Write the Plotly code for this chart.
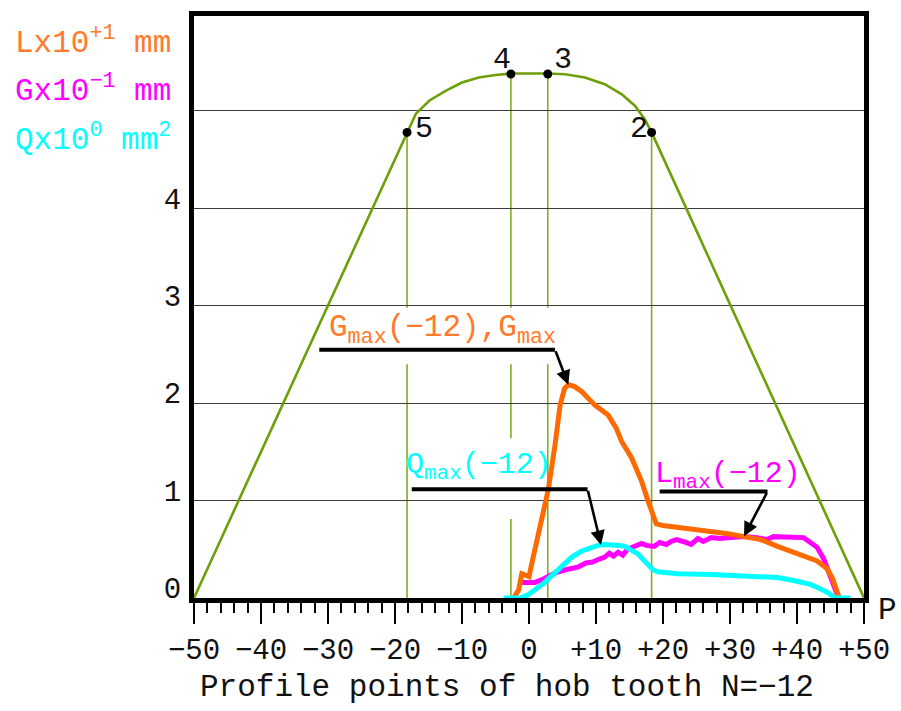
import plotly.graph_objects as go

# ---------------- data ----------------
green_x = [-50, -18.2, -16.9, -14.9, -12.45, -10.0, -7.5, -5.0, -2.7,
           2.8, 5.4, 8.35, 11.3, 13.8, 15.8, 17.25, 18.3, 50]
green_y = [0, 4.78, 4.97, 5.105, 5.207, 5.292, 5.343, 5.37, 5.384,
           5.384, 5.377, 5.343, 5.275, 5.173, 5.054, 4.919, 4.78, 0]

point_names = ["5", "4", "3", "2"]
point_x = [-18.2, -2.7, 2.8, 18.3]
point_y = [4.78, 5.38, 5.38, 4.78]

L_x = [-2.3, -1.56, -1.07, -0.57, 0.0, 0.5, 0.92, 1.9, 2.9, 3.9, 4.64, 5.3, 5.87,
       6.8, 7.85, 9.83, 11.81, 13.05, 13.8, 15.3, 16.8, 17.75, 18.5, 19.0,
       20.0, 22.2, 24.7, 26.2, 29.7, 32.1, 34.6, 37.1, 40.0, 42.0, 43.0, 44.5,
       45.3, 46.0, 46.3]
L_y = [0.0, 0.08, 0.25, 0.24, 0.22, 0.38, 0.52, 0.79, 1.12, 1.58, 1.98, 2.15, 2.19,
       2.17, 2.12, 1.98, 1.88, 1.74, 1.61, 1.44, 1.2, 1.0, 0.83, 0.76,
       0.745, 0.73, 0.705, 0.69, 0.66, 0.635, 0.6, 0.53, 0.46, 0.41, 0.38, 0.3,
       0.2, 0.06, 0.0]

G_x = [-1.4, 0.9, 2.0, 2.9, 4.0, 5.5, 7.4, 8.5, 9.5, 10.5, 11.3, 12.0, 12.6,
       13.3, 14.0, 14.7, 15.5, 16.8, 17.5, 18.7, 19.5, 20.5, 21.2, 22.0, 23.0,
       24.2, 25.2, 26.0, 27.2, 28.5, 30.0, 32.1, 34.0, 35.5, 36.5, 38.0, 39.5,
       41.0, 42.0, 43.0, 44.0, 44.7, 45.3, 46.0, 46.2]
G_y = [0.16, 0.16, 0.19, 0.22, 0.26, 0.29, 0.32, 0.36, 0.37, 0.40, 0.42, 0.46, 0.43,
       0.47, 0.44, 0.50, 0.52, 0.56, 0.54, 0.53, 0.57, 0.55, 0.58, 0.60, 0.58,
       0.55, 0.61, 0.58, 0.62, 0.61, 0.62, 0.63, 0.62, 0.60, 0.63, 0.63, 0.62,
       0.62, 0.57, 0.52, 0.40, 0.28, 0.17, 0.03, 0.0]

Q_x = [-3.8, -1.3, -0.2, 0.9, 2.2, 3.4, 4.9, 6.4, 7.8, 9.3, 10.5, 11.3, 12.5,
       13.5, 14.3, 15.3, 16.3, 17.1, 17.8, 18.5, 19.2, 20.5, 22.2, 27.2, 32.1,
       37.1, 39.5, 42.0, 43.3, 44.5, 45.7, 48.0]
Q_y = [0.0, 0.0, 0.03, 0.08, 0.15, 0.23, 0.33, 0.42, 0.48, 0.52, 0.545, 0.55, 0.55,
       0.54, 0.53, 0.49, 0.45, 0.39, 0.34, 0.29, 0.27, 0.26, 0.25, 0.24, 0.225,
       0.21, 0.18, 0.14, 0.10, 0.06, 0.0, 0.0]

x_tick_vals = [-50, -40, -30, -20, -10, 0, 10, 20, 30, 40, 50]
x_tick_text = ["\u221250", "\u221240", "\u221230", "\u221220", "\u221210", "0",
               "+10", "+20", "+30", "+40", "+50"]
y_tick_vals = [0, 1, 2, 3, 4, 5]
y_tick_text = ["0", "1", "2", "3", "4", ""]

x_title = "Profile points of hob tooth N=\u221212"

# ---------------- style ----------------
FONT = "Liberation Mono, DejaVu Sans Mono, monospace"
ORANGE = "#ff6a00"
ORANGE_T = "#ff7a2a"
MAGENTA = "#ff00ff"
CYAN = "#00ffff"
GREEN = "#6e9f0a"
GREEN_V = "#7fae1e"

W, H = 901, 711
ML, MR, MT, MB = 194, 34, 11, 113
PW = W - ML - MR
PH = H - MT - MB


def pxx(xp):
    return (xp - ML) / PW


def pxy(yp):
    return (H - MB - yp) / PH


fig = go.Figure()

fig.add_trace(go.Scatter(x=green_x, y=green_y, mode="lines",
                         line=dict(color=GREEN, width=2.6), hoverinfo="skip"))
fig.add_trace(go.Scatter(x=G_x, y=G_y, mode="lines",
                         line=dict(color=MAGENTA, width=5), hoverinfo="skip"))
fig.add_trace(go.Scatter(x=L_x, y=L_y, mode="lines",
                         line=dict(color=ORANGE, width=5), hoverinfo="skip"))
fig.add_trace(go.Scatter(x=Q_x, y=Q_y, mode="lines",
                         line=dict(color=CYAN, width=5), hoverinfo="skip"))
fig.add_trace(go.Scatter(x=point_x, y=point_y, mode="markers",
                         marker=dict(color="black", size=9), hoverinfo="skip"))

shapes = []
# vertical projection lines from the profile points, interrupted behind texts
gaps = {
    "5": [(2.40, 2.98)],
    "4": [(2.40, 2.98), (0.81, 1.64)],
    "3": [(2.40, 2.98)],
    "2": [],
}
for name, xv, yv in zip(point_names, point_x, point_y):
    top = yv
    for lo, hi in gaps[name]:
        shapes.append(dict(type="line", xref="x", yref="y", x0=xv, x1=xv,
                           y0=hi, y1=top, line=dict(color=GREEN_V, width=1.6),
                           layer="below"))
        top = lo
    shapes.append(dict(type="line", xref="x", yref="y", x0=xv, x1=xv,
                       y0=0, y1=top, line=dict(color=GREEN_V, width=1.6),
                       layer="below"))

# small gap in the grid line behind the L leader
shapes.append(dict(type="line", xref="x", yref="y", x0=33.8, x1=36.0, y0=1, y1=1,
                   line=dict(color="white", width=3), layer="below"))

# leader lines
leaders = [
    # (x0, x1, y, head_x, head_y)
    (-31.3, 3.89, 2.549, 5.87, 2.19),
    (-17.5, 8.74, 1.117, 10.75, 0.545),
    (19.5, 35.6, 1.093, 32.1, 0.635),
]
annotations = []
for x0, x1, yl, hx, hy in leaders:
    shapes.append(dict(type="line", xref="x", yref="y", x0=x0, x1=x1, y0=yl, y1=yl,
                       line=dict(color="black", width=4)))
    annotations.append(dict(x=hx, y=hy, ax=x1, ay=yl, xref="x", yref="y",
                            axref="x", ayref="y", text="", showarrow=True,
                            arrowhead=2, arrowsize=1.1, arrowwidth=2.6,
                            arrowcolor="black", standoff=0, startstandoff=0))

# point labels
label_shift = {"5": (17, 3), "4": (-9, 14), "3": (15, 14), "2": (-13, 3)}
for name, xv, yv in zip(point_names, point_x, point_y):
    sx, sy = label_shift[name]
    annotations.append(dict(x=xv, y=yv, xref="x", yref="y", text=name,
                            showarrow=False, xshift=sx, yshift=sy,
                            font=dict(family=FONT, size=30, color="#111111")))

# leader texts
annotations.append(dict(x=pxx(328), y=pxy(328), xref="paper", yref="paper",
                        xanchor="left", yanchor="middle", showarrow=False,
                        text="G<sub>max</sub>(\u221212),G<sub>max</sub>",
                        font=dict(family=FONT, size=31, color=ORANGE_T)))
annotations.append(dict(x=pxx(405), y=pxy(465), xref="paper", yref="paper",
                        xanchor="left", yanchor="middle", showarrow=False,
                        text="Q<sub>max</sub>(\u221212)",
                        font=dict(family=FONT, size=30, color=CYAN)))
annotations.append(dict(x=pxx(655), y=pxy(474), xref="paper", yref="paper",
                        xanchor="left", yanchor="middle", showarrow=False,
                        text="L<sub>max</sub>(\u221212)",
                        font=dict(family=FONT, size=30, color=MAGENTA)))

# units legend (top-left)
legend_rows = [
    ("Lx10<sup>+1</sup>\u00a0mm", ORANGE_T, 36),
    ("Gx10<sup>\u22121</sup>\u00a0mm", MAGENTA, 85),
    ("Qx10<sup>0</sup>\u00a0mm<sup>2</sup>", CYAN, 134),
]
for txt, col, yp in legend_rows:
    annotations.append(dict(x=pxx(12), y=pxy(yp), xref="paper", yref="paper",
                            xanchor="left", yanchor="middle", showarrow=False,
                            text=txt, font=dict(family=FONT, size=31, color=col)))

# axis title and P
annotations.append(dict(x=pxx(508), y=pxy(688), xref="paper", yref="paper",
                        xanchor="center", yanchor="middle", showarrow=False,
                        text=x_title, font=dict(family=FONT, size=31, color="#111111")))
annotations.append(dict(x=pxx(891), y=pxy(611), xref="paper", yref="paper",
                        xanchor="center", yanchor="middle", showarrow=False,
                        text="P", font=dict(family=FONT, size=31, color="#111111")))

fig.update_layout(
    width=W, height=H,
    margin=dict(l=ML, r=MR, t=MT, b=MB, pad=0),
    paper_bgcolor="white", plot_bgcolor="white",
    showlegend=False,
    shapes=shapes,
    annotations=annotations,
    xaxis=dict(range=[-50, 50], tickmode="array", tickvals=x_tick_vals,
               ticktext=x_tick_text, ticks="outside", ticklen=21, tickwidth=1.6,
               tickcolor="black", showline=True, linewidth=5, linecolor="black",
               mirror=True, showgrid=False, zeroline=False,
               tickfont=dict(family=FONT, size=29, color="#111111"),
               minor=dict(tick0=0, dtick=2, ticks="outside", ticklen=10,
                          tickwidth=1.6, tickcolor="black", showgrid=False)),
    yaxis=dict(range=[0, 5.975], tickmode="array", tickvals=y_tick_vals,
               ticktext=y_tick_text, ticks="", showline=True, linewidth=5,
               linecolor="black", mirror=True, showgrid=True,
               gridcolor="#3c3c3c", gridwidth=1.3, zeroline=False,
               ticklabelshift=-10, ticklabelstandoff=2,
               tickfont=dict(family=FONT, size=29, color="#111111")),
)

fig.write_html("out.html")
